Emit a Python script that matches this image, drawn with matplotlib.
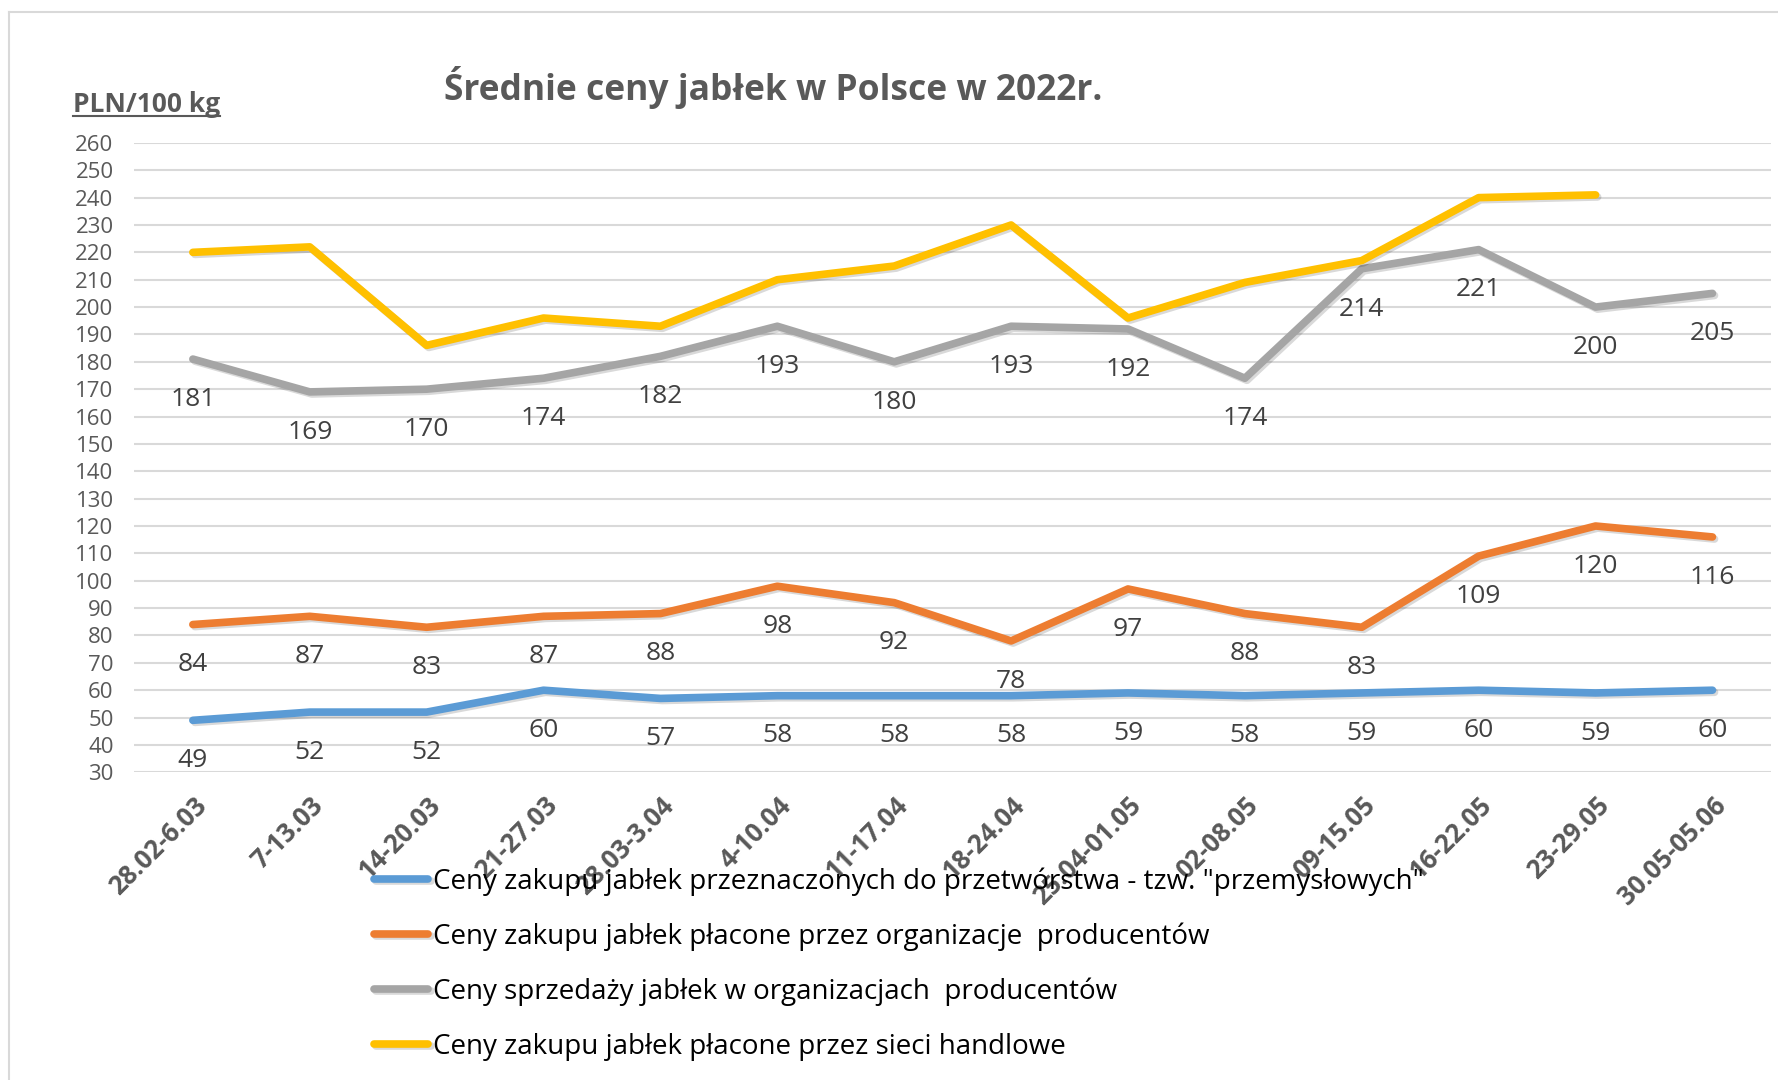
import matplotlib
matplotlib.use('Agg')
import numpy as np
from matplotlib import pyplot as plt
from matplotlib.lines import Line2D
import matplotlib.patheffects as pe

weeks = ['28.02-6.03', '7-13.03', '14-20.03', '21-27.03', '28.03-3.04', '4-10.04',
         '11-17.04', '18-24.04', '25.04-01.05', '02-08.05', '09-15.05', '16-22.05',
         '23-29.05', '30.05-05.06']

przemyslowe = [49, 52, 52, 60, 57, 58, 58, 58, 59, 58, 59, 60, 59, 60]
org_zakup = [84, 87, 83, 87, 88, 98, 92, 78, 97, 88, 83, 109, 120, 116]
org_sprzedaz = [181, 169, 170, 174, 182, 193, 180, 193, 192, 174, 214, 221, 200, 205]
sieci = [220, 222, 186, 196, 193, 210, 215, 230, 196, 209, 217, 240, 241, np.nan]

labels = ['Ceny zakupu jabłek przeznaczonych do przetwórstwa - tzw. "przemysłowych"',
          'Ceny zakupu jabłek płacone przez organizacje  producentów',
          'Ceny sprzedaży jabłek w organizacjach  producentów',
          'Ceny zakupu jabłek płacone przez sieci handlowe']
colors = ['#5B9BD5', '#ED7D31', '#A5A5A5', '#FFC000']

plt.rcParams['font.family'] = ['Open Sans', 'DejaVu Sans']

fig = plt.figure(figsize=(17.78, 10.8), dpi=100)
ax = fig.add_axes([0.0756, 0.2849, 0.9204, 0.5828])

x = np.arange(len(weeks))
series = [przemyslowe, org_zakup, org_sprzedaz, sieci]
shadow = [pe.SimpleLineShadow(offset=(1.5, -1.5), alpha=0.15, shadow_color='black'), pe.Normal()]
for vals, lab, col in zip(series, labels, colors):
    ax.plot(x, vals, color=col, lw=5.5, label=lab, solid_capstyle='round',
            solid_joinstyle='round', path_effects=shadow, zorder=3)

# data labels below points (no labels for the retail series)
for vals in series[:3]:
    for xi, v in zip(x, vals):
        ax.annotate(str(v), (xi, v), xytext=(0, -29), textcoords='offset points',
                    ha='center', va='center', fontsize=19, color='#404040', zorder=4)

ax.set_xlim(-0.5, len(weeks) - 0.5)
ax.set_ylim(30, 260)
ax.set_yticks(range(30, 261, 10))
ax.grid(axis='y', color='#D9D9D9', lw=1.5, zorder=0)
for s in ax.spines.values():
    s.set_visible(False)
ax.tick_params(length=0)
ax.tick_params(axis='y', labelsize=16, labelcolor='#595959', pad=15)
ax.set_xticks(x)
ax.set_xticklabels(weeks, rotation=45, ha='right', rotation_mode='anchor',
                   fontsize=18.5, fontweight='bold', color='#595959')
ax.tick_params(axis='x', pad=14)

fig.text(0.435, 0.919, 'Średnie ceny jabłek w Polsce w 2022r.', ha='center', va='center',
         fontsize=25.5, fontweight='bold', color='#595959')
unit = fig.text(0.041, 0.903, 'PLN/100 kg', ha='left', va='center',
                fontsize=19, fontweight='bold', color='#595959')

fig.legend(loc='upper left', bbox_to_anchor=(0.2105, 0.197), frameon=False,
           fontsize=20, handlelength=1.95, handletextpad=0.15, labelspacing=0.96,
           borderaxespad=0, borderpad=0)

# underline for the unit label
fig.canvas.draw()
bb = unit.get_window_extent().transformed(fig.transFigure.inverted())
fig.add_artist(Line2D([bb.x0, bb.x1], [bb.y0 + 0.002, bb.y0 + 0.002],
                      transform=fig.transFigure, color='#595959', lw=1.5))

# chart border (top and left visible)
fig.add_artist(Line2D([0.005, 1.0], [0.989, 0.989], transform=fig.transFigure,
                      color='#D9D9D9', lw=1.5))
fig.add_artist(Line2D([0.005, 0.005], [0.0, 0.989], transform=fig.transFigure,
                      color='#D9D9D9', lw=1.5))

fig.savefig('out.png', dpi=100)
